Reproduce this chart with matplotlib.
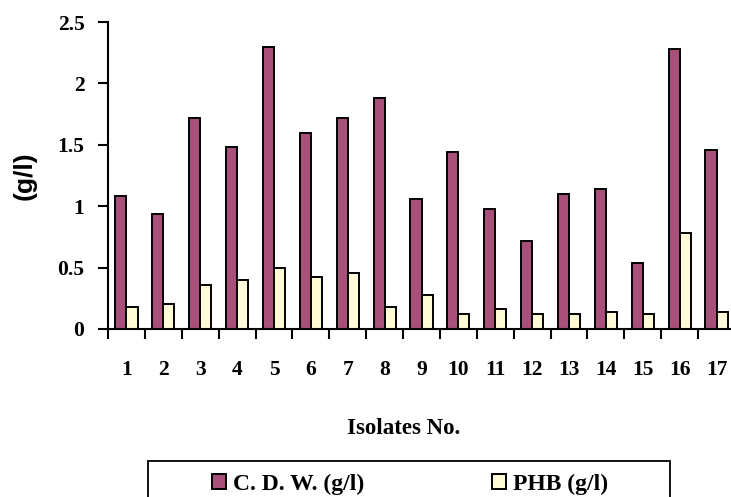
import matplotlib
matplotlib.use("Agg")
import matplotlib.pyplot as plt
from matplotlib.patches import Rectangle
import numpy as np

isolates = [str(i) for i in range(1, 18)]
cdw = [1.08, 0.94, 1.72, 1.48, 2.30, 1.60, 1.72, 1.88, 1.06, 1.44, 0.98, 0.72, 1.10, 1.14, 0.54, 2.28, 1.46]
phb = [0.18, 0.20, 0.36, 0.40, 0.50, 0.42, 0.46, 0.18, 0.28, 0.12, 0.16, 0.12, 0.12, 0.14, 0.12, 0.78, 0.14]
yticks = [0, 0.5, 1, 1.5, 2, 2.5]

fig = plt.figure(figsize=(7.31, 4.97), dpi=100)
ax = fig.add_axes([108/731, 168/497, 627/731, 307/497])

x = np.arange(len(isolates))
w = 0.3
b1 = ax.bar(x - w/2, cdw, w, color="#A8507A", edgecolor="black", linewidth=1.4, label="C. D. W. (g/l)")
b2 = ax.bar(x + w/2, phb, w, color="#FFFBD6", edgecolor="black", linewidth=1.4, label="PHB (g/l)")

ax.set_xlim(-0.5, len(isolates) - 0.5)
ax.set_ylim(0, 2.5)
ax.spines["top"].set_visible(False)
ax.spines["right"].set_visible(False)
ax.spines["left"].set_linewidth(1.5)
ax.spines["bottom"].set_linewidth(1.5)

tf = {"family": "Liberation Serif", "weight": "bold", "size": 15.5}
ax.set_xticks(x)
ax.set_xticklabels(isolates, fontdict=tf)
ax.set_xticks(np.arange(-0.5, len(isolates)), minor=True)
ax.tick_params(axis="x", which="major", length=0, pad=22)
ax.tick_params(axis="x", which="minor", length=7, width=1.5, direction="out")
ax.set_yticks(yticks)
ax.set_yticklabels(["%g" % v for v in yticks], fontdict=tf)
ax.tick_params(axis="y", length=7, width=1.5, direction="out", pad=10)

ax.set_xlabel("Isolates No.", family="Liberation Serif", weight="bold", size=16.5)
ax.xaxis.set_label_coords((404 - 108) / 627, -(428 - 329) / 307)
ax.xaxis.label.set_va("center")
ax.set_ylabel("(g/l)", family="Liberation Sans", weight="bold", size=19)
ax.yaxis.set_label_coords(-(108 - 25) / 627, 0.5)
ax.yaxis.label.set_va("center")

# legend box runs off the bottom of the picture
fig.add_artist(Rectangle((148/731, -0.1), 522/731, 0.1 + 1 - 461/497, transform=fig.transFigure,
                         fill=False, edgecolor="black", linewidth=1.3))
lp = {"family": "Liberation Serif", "weight": "bold", "size": 17}
for h, xs in [(b1, 212), (b2, 492)]:
    fig.legend(handles=[h], loc="center left", bbox_to_anchor=(xs/731, 1 - 484/497),
               bbox_transform=fig.transFigure, prop=lp, frameon=False,
               handlelength=0.6, handleheight=0.6, handletextpad=0.3,
               borderpad=0, borderaxespad=0)

fig.savefig("out.png", dpi=100)
